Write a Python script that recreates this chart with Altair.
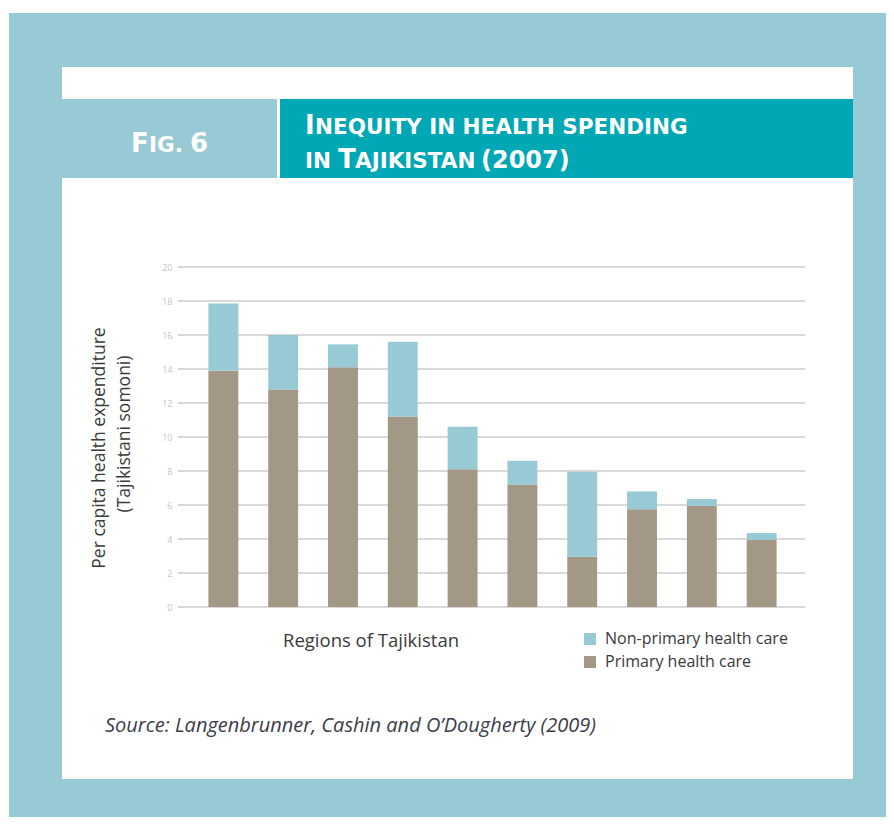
import altair as alt
import pandas as pd

# ---------------- data ----------------
regions = ["Region 1", "Region 2", "Region 3", "Region 4", "Region 5",
           "Region 6", "Region 7", "Region 8", "Region 9", "Region 10"]
primary = [13.9, 12.8, 14.1, 11.2, 8.1, 7.2, 2.95, 5.75, 5.95, 3.95]
non_primary = [3.95, 3.2, 1.35, 4.4, 2.5, 1.4, 5.0, 1.05, 0.4, 0.4]
series_names = ["Non-primary health care", "Primary health care"]
series_colors = ["#98cad5", "#a39785"]
y_ticks = [0, 2, 4, 6, 8, 10, 12, 14, 16, 18, 20]

rows = []
for i, r in enumerate(regions):
    rows.append({"region": r, "series": series_names[1], "value": primary[i], "ord": 0})
    rows.append({"region": r, "series": series_names[0], "value": non_primary[i], "ord": 1})
df = pd.DataFrame(rows)
grid_df = pd.DataFrame({"v": y_ticks})
one = pd.DataFrame({"a": [0]})

# plot area origin on page: (180, 267); canvas origin on page: (8, 8)
OX, OY = 180, 267
W, H = 625, 340
CW, CH = 878, 809

LIGHT = "#98cad5"
TEAL = "#00a7b5"
FONT = "Open Sans"
TFONT = "DejaVu Sans"
TXT = "#3a3a3a"


def rect(x1, y1, x2, y2, color):
    return alt.Chart(one).mark_rect(color=color, clip=False).encode(
        x=alt.value(x1 - OX), x2=alt.value(x2 - OX),
        y=alt.value(y1 - OY), y2=alt.value(y2 - OY))


def text(t, x, y, **kw):
    return alt.Chart(one).mark_text(text=t, clip=False, **kw).encode(
        x=alt.value(x - OX), y=alt.value(y - OY))


bg = rect(9, 13, 8 + CW, 8 + CH, LIGHT)
panel = rect(62, 67, 853, 779, "white")
head_l = rect(62, 99, 277, 178, LIGHT)
head_r = rect(280, 99, 853, 178, TEAL)

big, small = 26, 21.5
tk = dict(font=TFONT, fontWeight="bold", color="white", align="left", baseline="alphabetic")
titles = [
    text("F", 131, 152, fontSize=big, **tk),
    text("IG.", 149, 152, fontSize=small, **tk),
    text("6", 190, 152, fontSize=big, **tk),
    text("I", 305, 134, fontSize=big, **tk),
    text("NEQUITY IN HEALTH SPENDING", 315, 134, fontSize=small, **tk),
    text("IN", 305, 168, fontSize=small, **tk),
    text("T", 338, 168, fontSize=big, **tk),
    text("AJIKISTAN", 355, 168, fontSize=small, **tk),
    text("(2007)", 481, 168, fontSize=24, **tk),
]

y_scale = alt.Scale(domain=[0, 20], nice=False)


def y_axis():
    return alt.Axis(values=y_ticks, grid=False, domain=False, ticks=False, title=None,
                    labelFontSize=9, labelColor="#c4c4c4", labelFont=FONT,
                    labelPadding=8, labelOverlap=False, labelFlush=False, zindex=1)


grid = alt.Chart(grid_df).mark_rule(color="#cccccc", strokeWidth=1.5).encode(
    y=alt.Y("v:Q", scale=y_scale, axis=y_axis()),
    x=alt.value(-2), x2=alt.value(W))

bars = alt.Chart(df).mark_bar().encode(
    x=alt.X("region:N", sort=regions,
            scale=alt.Scale(paddingInner=0.5, paddingOuter=0.475),
            axis=alt.Axis(labels=False, ticks=False, domain=False, title=None, grid=False)),
    y=alt.Y("value:Q", stack="zero", scale=y_scale, axis=y_axis()),
    color=alt.Color("series:N",
                    scale=alt.Scale(domain=series_names, range=series_colors),
                    legend=alt.Legend(title=None, orient="none", legendX=402, legendY=364,
                                      symbolType="square", symbolSize=144, symbolStrokeWidth=0,
                                      labelFontSize=16, labelFont=FONT, labelColor=TXT,
                                      labelOffset=7, rowPadding=7, padding=0, labelLimit=400)),
    order=alt.Order("ord:Q"),
)

ytitle1 = text("Per capita health expenditure", 100, 448, fontSize=17.5, font=FONT,
               color=TXT, angle=270, align="center", baseline="middle")
ytitle2 = text("(Tajikistani somoni)", 125, 434, fontSize=17.5, font=FONT,
               color=TXT, angle=270, align="center", baseline="middle")
xtitle = text("Regions of Tajikistan", 371, 641, fontSize=18.5, font=FONT,
              color=TXT, align="center", baseline="middle")
source = text("Source: Langenbrunner, Cashin and O\u2019Dougherty (2009)", 105, 732,
              fontSize=20, font=FONT, fontStyle="italic", color="#3c3c48",
              align="left", baseline="alphabetic")

chart = alt.layer(bg, panel, head_l, head_r, *titles, grid, bars,
                  ytitle1, ytitle2, xtitle, source).properties(
    width=W, height=H,
    autosize=alt.AutoSizeParams(type="none"),
    padding={"left": OX - 8, "top": OY - 8, "right": CW - (OX - 8) - W, "bottom": CH - (OY - 8) - H},
).configure_view(stroke=None)

chart.save("out.html", embed_options={"renderer": "svg", "actions": False})
